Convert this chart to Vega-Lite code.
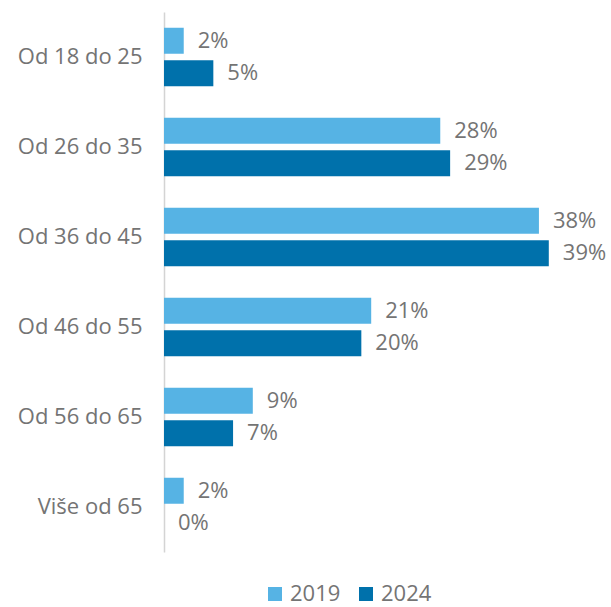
{
  "$schema": "https://vega.github.io/schema/vega-lite/v6.json",
  "width": 444,
  "height": 540,
  "autosize": {"type": "none"},
  "padding": {"left": 164, "top": 12, "right": 3, "bottom": 55},
  "config": {
    "view": {"stroke": null},
    "font": "Open Sans",
    "text": {"font": "Open Sans"}
  },
  "data": {
    "values": [
      {"age": "Od 18 do 25", "year": "2019", "value": 0.02},
      {"age": "Od 18 do 25", "year": "2024", "value": 0.05},
      {"age": "Od 26 do 35", "year": "2019", "value": 0.28},
      {"age": "Od 26 do 35", "year": "2024", "value": 0.29},
      {"age": "Od 36 do 45", "year": "2019", "value": 0.38},
      {"age": "Od 36 do 45", "year": "2024", "value": 0.39},
      {"age": "Od 46 do 55", "year": "2019", "value": 0.21},
      {"age": "Od 46 do 55", "year": "2024", "value": 0.20},
      {"age": "Od 56 do 65", "year": "2019", "value": 0.09},
      {"age": "Od 56 do 65", "year": "2024", "value": 0.07},
      {"age": "Više od 65", "year": "2019", "value": 0.02},
      {"age": "Više od 65", "year": "2024", "value": 0.0}
    ]
  },
  "encoding": {
    "y": {
      "field": "age",
      "type": "nominal",
      "sort": null,
      "scale": {"paddingInner": 0.35, "paddingOuter": 0.175},
      "axis": {
        "title": null,
        "ticks": false,
        "labelFontSize": 22,
        "labelColor": "#747474",
        "labelPadding": 22,
        "labelFont": "Open Sans",
        "domainColor": "#d4d4d4",
        "domainWidth": 1.5,
        "grid": false
      }
    },
    "yOffset": {
      "field": "year",
      "type": "nominal",
      "scale": {"paddingInner": 0.2}
    },
    "x": {
      "field": "value",
      "type": "quantitative",
      "scale": {"domain": [0, 0.45], "nice": false},
      "axis": null
    }
  },
  "layer": [
    {
      "mark": {"type": "bar"},
      "encoding": {
        "color": {
          "field": "year",
          "type": "nominal",
          "scale": {"domain": ["2019", "2024"], "range": ["#56b3e4", "#0071ab"]},
          "legend": {
            "title": null,
            "orient": "none",
            "direction": "horizontal",
            "legendX": 100,
            "legendY": 571,
            "symbolType": "square",
            "symbolSize": 196,
            "symbolStrokeWidth": 0,
            "labelFontSize": 22,
            "labelColor": "#747474",
            "labelFont": "Open Sans",
            "columnPadding": 14,
            "labelOffset": 4
          }
        }
      }
    },
    {
      "mark": {
        "type": "text",
        "align": "left",
        "baseline": "middle",
        "dx": 14,
        "fontSize": 22,
        "color": "#747474"
      },
      "encoding": {
        "text": {"field": "value", "type": "quantitative", "format": ".0%"}
      }
    }
  ]
}
